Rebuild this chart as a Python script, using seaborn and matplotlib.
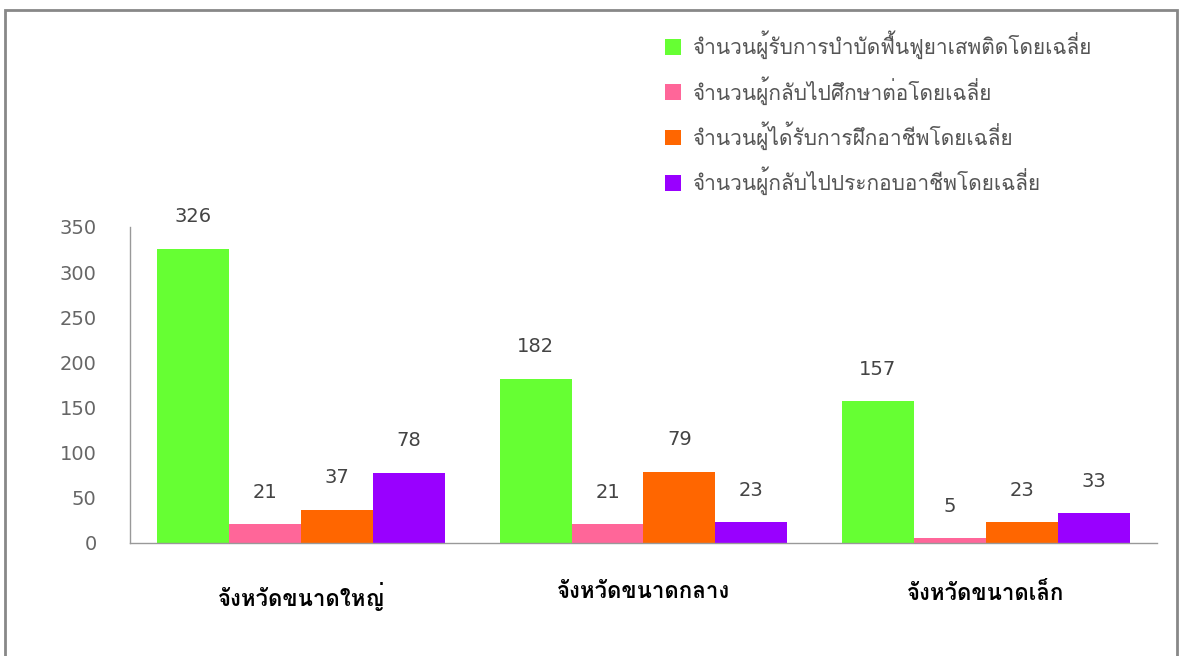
import matplotlib
matplotlib.use("Agg")
import matplotlib.pyplot as plt
import pandas as pd
import seaborn as sns
from matplotlib import font_manager
from matplotlib.ft2font import FT2Font
from matplotlib.patches import Rectangle

provinces = ["จังหวัดขนาดใหญ่", "จังหวัดขนาดกลาง", "จังหวัดขนาดเล็ก"]
series = [
    "จำนวนผู้รับการบำบัดฟื้นฟูยาเสพติดโดยเฉลี่ย",
    "จำนวนผู้กลับไปศึกษาต่อโดยเฉลี่ย",
    "จำนวนผู้ได้รับการฝึกอาชีพโดยเฉลี่ย",
    "จำนวนผู้กลับไปประกอบอาชีพโดยเฉลี่ย",
]
treated = [326, 182, 157]
back_to_school = [21, 21, 5]
job_training = [37, 79, 23]
back_to_work = [78, 23, 33]
colors = ["#66FF33", "#FF6699", "#FF6600", "#9900FF"]


def thai_family():
    # pick any installed font that actually has Thai glyphs
    for f in font_manager.fontManager.ttflist:
        try:
            if ord("จ") in FT2Font(f.fname).get_charmap():
                return f.name
        except Exception:
            continue
    return "DejaVu Sans"


def main() -> None:
    sns.set_theme(style="white")
    thai = thai_family()
    plt.rcParams["font.family"] = ["DejaVu Sans", thai]

    rows = []
    for name, values in zip(series, [treated, back_to_school, job_training, back_to_work]):
        for prov, v in zip(provinces, values):
            rows.append({"province": prov, "series": name, "value": v})
    df = pd.DataFrame(rows)

    fig = plt.figure(figsize=(11.81, 6.56), dpi=100)
    ax = fig.add_axes([0.110, 0.1723, 0.8697, 0.4817])

    sns.barplot(
        data=df, x="province", y="value", hue="series",
        order=provinces, hue_order=series, palette=colors,
        width=0.84, saturation=1, linewidth=0, ax=ax, legend=True,
    )

    for cont in ax.containers:
        ax.bar_label(cont, padding=16, color="#444444", fontsize=14,
                     family="DejaVu Sans")

    ax.set_ylim(0, 350)
    ax.set_xlim(-0.5, 2.5)
    ax.set_yticks(range(0, 351, 50))
    ax.set_xlabel("")
    ax.set_ylabel("")
    ax.tick_params(axis="y", length=0, pad=24, labelsize=14, labelcolor="#666666")
    ax.tick_params(axis="x", length=0, pad=28)
    for lab in ax.get_xticklabels():
        lab.set_fontfamily([thai])
        lab.set_fontweight("bold")
        lab.set_fontsize(16)
        lab.set_color("black")

    for side in ["top", "right"]:
        ax.spines[side].set_visible(False)
    for side in ["left", "bottom"]:
        ax.spines[side].set_color("#999999")
        ax.spines[side].set_linewidth(1)

    handles, labels = ax.get_legend_handles_labels()
    ax.get_legend().remove()
    leg = fig.legend(
        handles, labels, loc="upper left", bbox_to_anchor=(0.547, 0.982),
        frameon=False, handlelength=0.8, handleheight=0.8, handletextpad=0.5,
        labelspacing=0.8, prop={"family": [thai], "size": 15},
    )
    for t in leg.get_texts():
        t.set_color("#555555")

    # grey frame around the picture
    fig.patches.append(Rectangle((5 / 1181, -0.01), 1172 / 1181, 1 - 10 / 656 + 0.01,
                                 transform=fig.transFigure, fill=False,
                                 edgecolor="#888888", linewidth=2))

    fig.savefig("out.png", dpi=100)
    plt.close(fig)


if __name__ == "__main__":
    main()
